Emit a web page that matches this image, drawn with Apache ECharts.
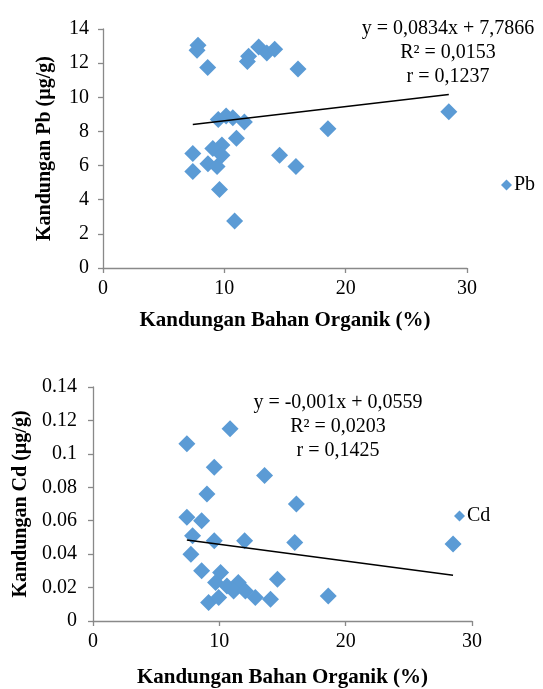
<!DOCTYPE html>
<html>
<head>
<meta charset="utf-8">
<script src="https://cdn.jsdelivr.net/npm/echarts@6/dist/echarts.min.js"></script>
<style>html,body{margin:0;padding:0;background:#fff;}#c{width:543px;height:689px;}</style>
</head>
<body>
<div id="c"></div>
<script>
// Pb chart data (x = Kandungan Bahan Organik %, y = Pb µg/g)
const pbX = [7.83, 7.75, 8.63, 12.0, 11.9, 12.83, 13.5, 14.15, 16.07, 18.54, 28.5, 9.5, 10.15, 10.7, 11.65, 11.0, 9.8, 9.05, 9.8, 8.65, 9.4, 7.4, 7.4, 9.6, 10.85, 14.55, 15.9];
const pbY = [13.05, 12.75, 11.75, 12.4, 12.1, 12.95, 12.6, 12.82, 11.65, 8.15, 9.15, 8.7, 8.9, 8.8, 8.55, 7.6, 7.2, 7.0, 6.6, 6.1, 5.95, 6.7, 5.65, 4.6, 2.75, 6.6, 5.95];
// Cd chart data
const cdX = [7.43, 10.85, 9.6, 13.58, 9.02, 16.1, 7.43, 8.6, 7.88, 9.6, 12.0, 15.97, 7.75, 8.6, 10.1, 14.6, 9.7, 9.15, 9.95, 10.6, 11.5, 11.13, 12.06, 12.85, 14.05, 18.62, 28.5];
const cdY = [0.106, 0.115, 0.092, 0.087, 0.076, 0.070, 0.062, 0.060, 0.051, 0.048, 0.048, 0.047, 0.040, 0.030, 0.029, 0.025, 0.023, 0.011, 0.014, 0.021, 0.023, 0.018, 0.018, 0.014, 0.013, 0.015, 0.046];
// Trend line coefficients [slope, intercept]
const pbTrend = [0.0834, 7.7866];
const cdTrend = [-0.001, 0.0559];
const pbEq = ['y = 0,0834x + 7,7866', 'R² = 0,0153', 'r = 0,1237'];
const cdEq = ['y = -0,001x + 0,0559', 'R² = 0,0203', 'r = 0,1425'];
const xTitle = 'Kandungan Bahan Organik (%)';
const pbTitle = 'Kandungan Pb (µg/g)';
const cdTitle = 'Kandungan Cd (µg/g)';

const FONT = '"Liberation Serif", "Times New Roman", serif';
const AX = '#898989';
const BLUE = '#5B9BD5';

function pairs(xs, ys) { return xs.map((x, i) => [x, ys[i]]); }
function trend(xs, c) {
  const mn = Math.min(...xs), mx = Math.max(...xs);
  return [[mn, c[0] * mn + c[1]], [mx, c[0] * mx + c[1]]];
}
function xAxis(idx, gap) {
  return {
    type: 'value', gridIndex: idx, min: 0, max: 30, interval: 10,
    name: xTitle, nameLocation: 'middle', nameGap: gap,
    nameTextStyle: { fontFamily: FONT, fontWeight: 'bold', fontSize: 21, color: '#000' },
    axisLine: { show: true, onZero: false, lineStyle: { color: AX, width: 1.3 } },
    axisTick: { show: true, length: 5, lineStyle: { color: AX, width: 1.3 } },
    axisLabel: { fontFamily: FONT, fontSize: 20, color: '#000', margin: 11 },
    splitLine: { show: false }
  };
}
function yAxis(idx, max, interval, gap, margin) {
  return {
    type: 'value', gridIndex: idx, min: 0, max: max, interval: interval,
    name: idx === 0 ? pbTitle : cdTitle, nameLocation: 'middle', nameGap: gap,
    nameTextStyle: { fontFamily: FONT, fontWeight: 'bold', fontSize: 20, color: '#000' },
    axisLine: { show: true, lineStyle: { color: AX, width: 1.3 } },
    axisTick: { show: true, length: 5, lineStyle: { color: AX, width: 1.3 } },
    axisLabel: { fontFamily: FONT, fontSize: 20, color: '#000', margin: margin },
    splitLine: { show: false }
  };
}
function eqGraphic(lines, cx, y0, dy) {
  return lines.map((t, i) => ({
    type: 'text', x: cx, y: y0 + i * dy,
    style: { text: t, fontFamily: FONT, fontSize: 20, fill: '#000', textAlign: 'center', textVerticalAlign: 'middle' }
  }));
}

const chart = echarts.init(document.getElementById('c'), null, { renderer: 'canvas' });
chart.setOption({
  animation: false,
  backgroundColor: '#fff',
  grid: [
    { left: 103, top: 29, width: 364, height: 239 },
    { left: 93, top: 387, width: 379, height: 234 }
  ],
  xAxis: [xAxis(0, 42), xAxis(1, 46)],
  yAxis: [yAxis(0, 14, 2, 48, 14), yAxis(1, 0.14, 0.02, 62, 16)],
  legend: [
    { data: [{ name: 'Pb', icon: 'diamond' }], left: 496, top: 170, itemWidth: 11, itemHeight: 11, itemGap: 2,
      textStyle: { fontFamily: FONT, fontSize: 20, color: '#000', padding: [0, 0, 0, -3] } },
    { data: [{ name: 'Cd', icon: 'diamond' }], left: 449, top: 501, itemWidth: 11, itemHeight: 11, itemGap: 2,
      textStyle: { fontFamily: FONT, fontSize: 20, color: '#000', padding: [0, 0, 0, -3] } }
  ],
  series: [
    { name: 'Pb', type: 'scatter', xAxisIndex: 0, yAxisIndex: 0, symbol: 'diamond', symbolSize: 17,
      itemStyle: { color: BLUE, opacity: 1 }, data: pairs(pbX, pbY), z: 2 },
    { name: 'PbTrend', type: 'line', xAxisIndex: 0, yAxisIndex: 0, symbol: 'none',
      lineStyle: { color: '#000', width: 1.5 }, data: trend(pbX, pbTrend), z: 3 },
    { name: 'Cd', type: 'scatter', xAxisIndex: 1, yAxisIndex: 1, symbol: 'diamond', symbolSize: 17,
      itemStyle: { color: BLUE, opacity: 1 }, data: pairs(cdX, cdY), z: 2 },
    { name: 'CdTrend', type: 'line', xAxisIndex: 1, yAxisIndex: 1, symbol: 'none',
      lineStyle: { color: '#000', width: 1.5 }, data: trend(cdX, cdTrend), z: 3 }
  ],
  graphic: [].concat(eqGraphic(pbEq, 448, 29, 24), eqGraphic(cdEq, 338, 403, 24))
});
</script>
</body>
</html>
